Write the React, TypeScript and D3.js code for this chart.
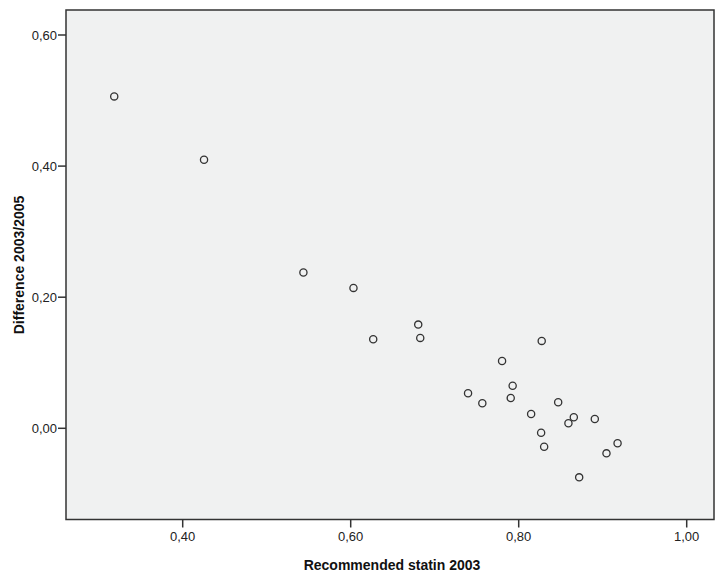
import React from "react";
import * as d3 from "d3";

const xValues = [0.3185, 0.4254, 0.5437, 0.6033, 0.6268, 0.6804, 0.6828, 0.8274, 0.7802, 0.7928, 0.7397, 0.7905, 0.7567, 0.847, 0.8148, 0.8656, 0.8592, 0.8906, 0.8267, 0.8303, 0.9177, 0.9045, 0.872];
const yValues = [0.5063, 0.4096, 0.2376, 0.2142, 0.1359, 0.1582, 0.1379, 0.1333, 0.1027, 0.065, 0.0534, 0.0463, 0.0382, 0.0397, 0.0218, 0.0168, 0.0076, 0.0142, -0.0067, -0.0281, -0.0229, -0.0382, -0.0748];
const xTicks = [0.4, 0.6, 0.8, 1.0];
const yTicks = [0.0, 0.2, 0.4, 0.6];
const xTitle = "Recommended statin 2003";
const yTitle = "Difference 2003/2005";

const W = 715;
const H = 578;
const left = 66;
const right = 714;
const top = 10;
const bottom = 519.5;

export default function App() {
  const x = d3.scaleLinear().domain([0.4, 1.0]).range([182.7, 686.7]);
  const y = d3.scaleLinear().domain([0, 0.6]).range([428.3, 35]);
  const fmt = (v: number) => d3.format(".2f")(v).replace(".", ",");
  const font = "'Liberation Sans', Arial, sans-serif";
  return (
    <svg width={W} height={H} style={{ position: "absolute", left: 0, top: 0, background: "#fff" }}>
      <rect x={left} y={top} width={right - left} height={bottom - top} fill="#f0f1f1" stroke="#333" strokeWidth={1.5} />
      {yTicks.map((t) => (
        <g key={"y" + t}>
          <line x1={left - 8} x2={left} y1={y(t)} y2={y(t)} stroke="#333" strokeWidth={1.5} />
          <text x={left - 9} y={y(t)} dy="0.35em" textAnchor="end" fontSize={13} fontFamily={font} fill="#222">{fmt(t)}</text>
        </g>
      ))}
      {xTicks.map((t) => (
        <g key={"x" + t}>
          <line x1={x(t)} x2={x(t)} y1={bottom} y2={bottom + 8} stroke="#333" strokeWidth={1.5} />
          <text x={x(t)} y={541} textAnchor="middle" fontSize={13} fontFamily={font} fill="#222">{fmt(t)}</text>
        </g>
      ))}
      {xValues.map((xv, i) => (
        <circle key={i} cx={x(xv)} cy={y(yValues[i])} r={3.6} fill="none" stroke="#333" strokeWidth={1.3} />
      ))}
      <text x={392} y={570} textAnchor="middle" fontSize={14} fontWeight="bold" fontFamily={font} fill="#111">{xTitle}</text>
      <text transform={`translate(24,265) rotate(-90)`} textAnchor="middle" fontSize={14} fontWeight="bold" fontFamily={font} fill="#111">{yTitle}</text>
    </svg>
  );
}
